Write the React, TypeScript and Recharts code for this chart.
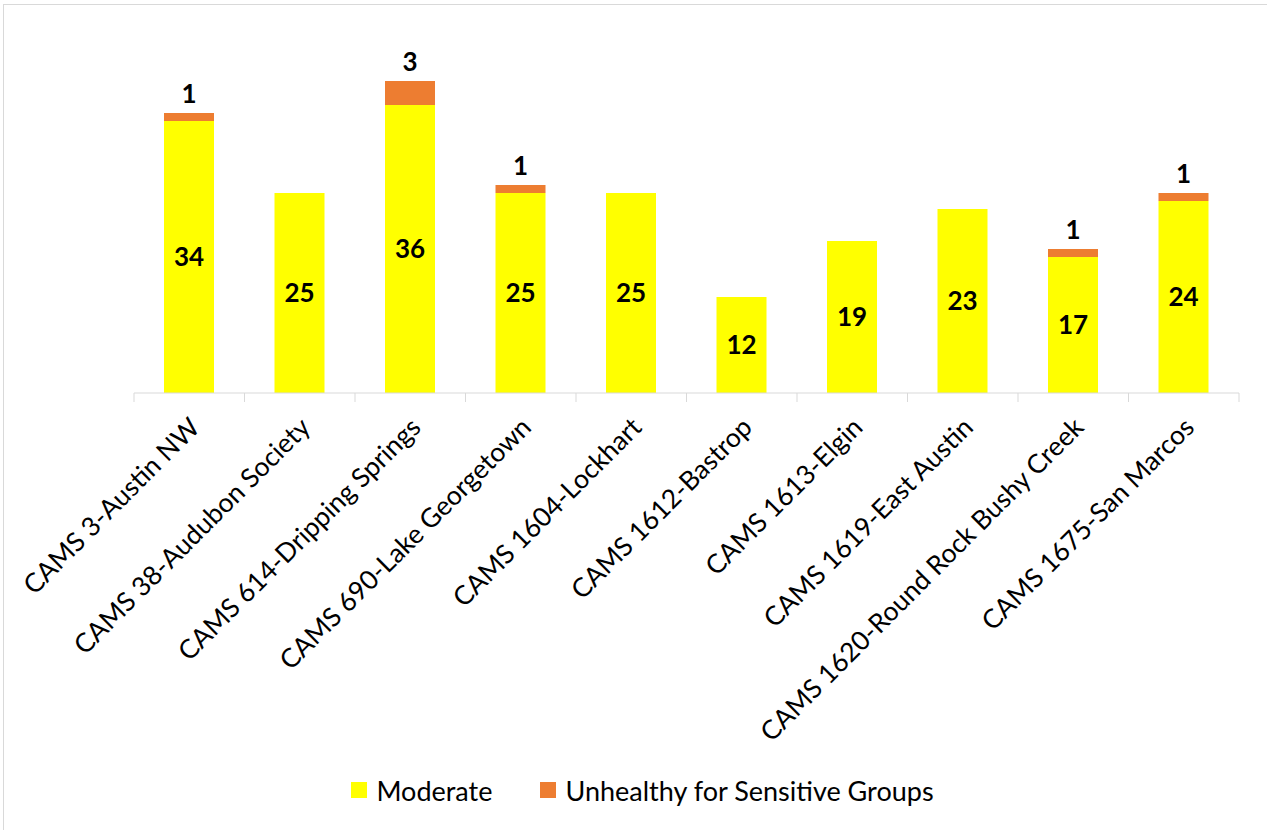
import { Bar, BarChart, LabelList, Legend, XAxis, YAxis } from "recharts";

const STATIONS = [
  "CAMS 3-Austin NW",
  "CAMS 38-Audubon Society",
  "CAMS 614-Dripping Springs",
  "CAMS 690-Lake Georgetown",
  "CAMS 1604-Lockhart",
  "CAMS 1612-Bastrop",
  "CAMS 1613-Elgin",
  "CAMS 1619-East Austin",
  "CAMS 1620-Round Rock Bushy Creek",
  "CAMS 1675-San Marcos",
];
const MODERATE = [34, 25, 36, 25, 25, 12, 19, 23, 17, 24];
const USG = [1, 0, 3, 1, 0, 0, 0, 0, 1, 1];

const WIDTH = 1267;
const HEIGHT = 830;
const MARGIN = { top: 73, right: 28, bottom: 10, left: 134 };
const LEGEND_H = 60;
const AXIS_H = 367;
const STEP = (WIDTH - MARGIN.left - MARGIN.right) / STATIONS.length;

const YELLOW = "#FFFF00";
const ORANGE = "#ED7D31";
const GRID = "#d9d9d9";
const FONT = "Lato, 'Open Sans', sans-serif";

const data = STATIONS.map((name, i) => ({ name, moderate: MODERATE[i], usg: USG[i] }));

function StationTick({ x = 0, y = 0, payload, index = 0 }: any) {
  const cx = Number(x);
  const cy = Number(y);
  const left = cx - STEP / 2;
  const tx = cx + 5;
  const ty = cy + 29;
  return (
    <g>
      <line x1={left} x2={left} y1={cy} y2={cy + 9} stroke={GRID} />
      {index === STATIONS.length - 1 && <line x1={left + STEP} x2={left + STEP} y1={cy} y2={cy + 9} stroke={GRID} />}
      <text
        x={tx}
        y={ty}
        transform={`rotate(-45, ${tx}, ${ty})`}
        textAnchor="end"
        dominantBaseline="central"
        fontFamily={FONT}
        fontSize={26.5}
        fill="#000"
      >
        {payload?.value}
      </text>
    </g>
  );
}

function LegendBox() {
  const items = [
    { label: "Moderate", color: YELLOW },
    { label: "Unhealthy for Sensitive Groups", color: ORANGE },
  ];
  return (
    <div style={{ display: "flex", justifyContent: "center", alignItems: "center", gap: 48, paddingLeft: 18, height: LEGEND_H, fontFamily: FONT, fontSize: 27, color: "#000" }}>
      {items.map((item) => (
        <span key={item.label} style={{ display: "flex", alignItems: "center", gap: 9 }}>
          <i style={{ display: "inline-block", width: 16, height: 16, background: item.color }} />
          {item.label}
        </span>
      ))}
    </div>
  );
}

export default function App() {
  return (
    <div style={{ position: "absolute", left: 0, top: 0, width: WIDTH, height: HEIGHT, background: "#fff", overflow: "hidden" }}>
      <div style={{ position: "absolute", left: 3, top: 4, width: WIDTH, height: HEIGHT, border: `1px solid ${GRID}` }} />
      <BarChart width={WIDTH} height={HEIGHT} data={data} margin={MARGIN} barSize={50}>
        <XAxis
          dataKey="name"
          interval={0}
          height={AXIS_H}
          axisLine={{ stroke: GRID }}
          tickLine={false}
          tickSize={0}
          tickMargin={0}
          tick={<StationTick />}
        />
        <YAxis hide domain={[0, 40]} />
        <Legend verticalAlign="bottom" height={LEGEND_H} wrapperStyle={{ left: 0, width: WIDTH }} content={() => <LegendBox />} />
        <Bar dataKey="moderate" name="Moderate" stackId="a" fill={YELLOW} isAnimationActive={false}>
          <LabelList dataKey="moderate" position="center" fill="#000" fontFamily={FONT} fontWeight={700} fontSize={26} />
        </Bar>
        <Bar dataKey="usg" name="Unhealthy for Sensitive Groups" stackId="a" fill={ORANGE} isAnimationActive={false}>
          <LabelList
            dataKey="usg"
            position="top"
            offset={10}
            formatter={(v: any) => (Number(v) > 0 ? v : "")}
            fill="#000"
            fontFamily={FONT}
            fontWeight={700}
            fontSize={26}
          />
        </Bar>
      </BarChart>
    </div>
  );
}
